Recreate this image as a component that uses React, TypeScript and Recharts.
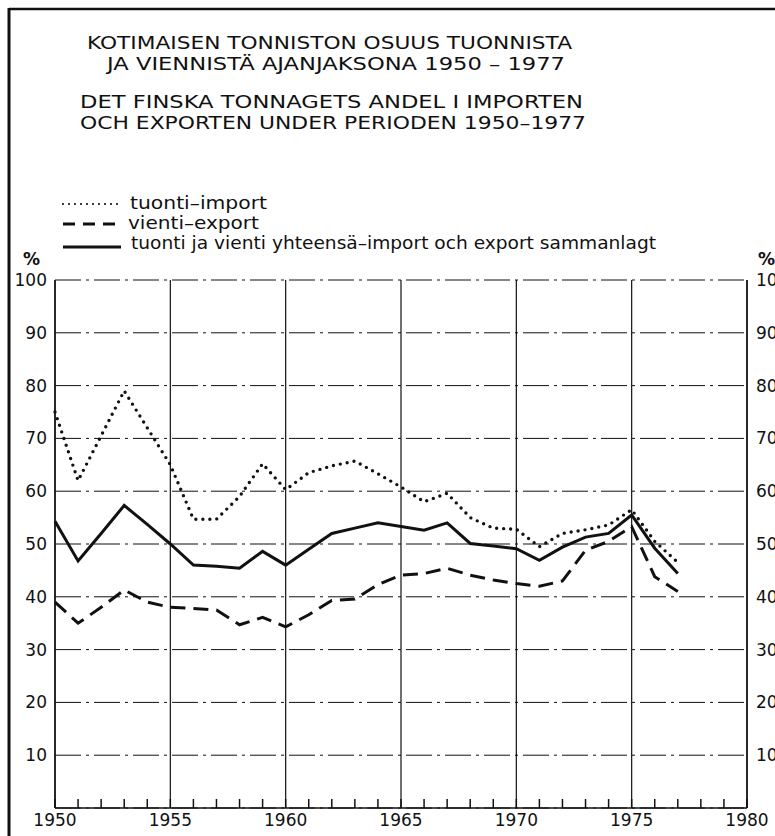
import React from 'react';
import { LineChart, Line, XAxis, YAxis, CartesianGrid } from 'recharts';

const years = [
  1950, 1951, 1952, 1953, 1954, 1955, 1956, 1957, 1958, 1959,
  1960, 1961, 1962, 1963, 1964, 1965, 1966, 1967, 1968, 1969,
  1970, 1971, 1972, 1973, 1974, 1975, 1976, 1977,
];

// tuonti-import (dotted)
const importShare = [
  75, 62, 70.5, 79, 72, 65, 54.7, 54.7, 59, 65.2,
  60.3, 63.5, 64.8, 65.7, 63.3, 60.8, 58, 59.6, 55, 53,
  52.8, 49.5, 52, 52.7, 53.6, 56.5, 50.5, 46.5,
];

// vienti-export (dashed)
const exportShare = [
  39, 35, 38, 41.3, 39, 38, 37.8, 37.5, 34.7, 36.1,
  34.3, 36.6, 39.3, 39.6, 42.3, 44.1, 44.4, 45.4, 44.1, 43.2,
  42.5, 42, 43, 48.8, 50.5, 53.3, 43.8, 41,
];

// tuonti ja vienti yhteensä (solid)
const totalShare = [
  54.3, 46.8, 52, 57.3, 53.7, 50, 46, 45.8, 45.4, 48.6,
  46, 49, 52, 53, 54, 53.3, 52.6, 54, 50.1, 49.6,
  49.1, 46.9, 49.4, 51.3, 52, 55.5, 49.2, 44.4,
];

const yearTicks = [1950, 1955, 1960, 1965, 1970, 1975, 1980];
const allYearTicks = [
  1950, 1951, 1952, 1953, 1954, 1955, 1956, 1957, 1958, 1959, 1960,
  1961, 1962, 1963, 1964, 1965, 1966, 1967, 1968, 1969, 1970,
  1971, 1972, 1973, 1974, 1975, 1976, 1977, 1978, 1979, 1980,
];
const pctTicks = [0, 10, 20, 30, 40, 50, 60, 70, 80, 90, 100];

const titleLines = [
  'KOTIMAISEN TONNISTON OSUUS TUONNISTA',
  'JA VIENNISTÄ AJANJAKSONA 1950 – 1977',
  'DET FINSKA TONNAGETS ANDEL I IMPORTEN',
  'OCH EXPORTEN UNDER PERIODEN 1950–1977',
];
const legendLabels = [
  'tuonti–import',
  'vienti–export',
  'tuonti ja vienti yhteensä–import och export sammanlagt',
];

const data = years.map((year, i) => ({
  year,
  tuonti: importShare[i],
  vienti: exportShare[i],
  yhteensa: totalShare[i],
}));

const INK = '#111';
const tickFont = { fontSize: 17, fill: INK, fontFamily: 'DejaVu Sans' };
const hideZero = (v: number) => (v === 0 ? '' : String(v));
const majorYearOnly = (v: number) => (yearTicks.includes(v) ? String(v) : '');

const Header = () => (
  <svg
    width={775}
    height={836}
    style={{ position: 'absolute', left: 0, top: 0, pointerEvents: 'none' }}
  >
    {/* frame */}
    <line x1={9} y1={9} x2={775} y2={9} stroke={INK} strokeWidth={2.5} />
    <line x1={9} y1={8} x2={9} y2={836} stroke={INK} strokeWidth={3} />

    <g fontFamily="DejaVu Sans" fontSize={18} fill={INK}>
      <text x={87} y={49} textLength={485} lengthAdjust="spacingAndGlyphs">{titleLines[0]}</text>
      <text x={107} y={70} textLength={458} lengthAdjust="spacingAndGlyphs">{titleLines[1]}</text>
      <text x={80} y={108} textLength={503} lengthAdjust="spacingAndGlyphs">{titleLines[2]}</text>
      <text x={80} y={129} textLength={506} lengthAdjust="spacingAndGlyphs">{titleLines[3]}</text>
    </g>

    {/* legend */}
    <line x1={63} y1={204} x2={119} y2={204} stroke={INK} strokeWidth={2.2} strokeDasharray="0 6" strokeLinecap="round" />
    <line x1={63} y1={224} x2={116} y2={224} stroke={INK} strokeWidth={3} strokeDasharray="12 8" />
    <line x1={63} y1={247} x2={121} y2={247} stroke={INK} strokeWidth={3} />
    <g fontFamily="DejaVu Sans" fontSize={17} fill={INK}>
      <text x={130} y={209} textLength={137} lengthAdjust="spacingAndGlyphs">{legendLabels[0]}</text>
      <text x={128} y={229} textLength={131} lengthAdjust="spacingAndGlyphs">{legendLabels[1]}</text>
      <text x={131} y={249} textLength={525} lengthAdjust="spacingAndGlyphs">{legendLabels[2]}</text>
    </g>

    <g fontFamily="DejaVu Sans" fontSize={17} fontWeight="bold" fill={INK}>
      <text x={23} y={265}>%</text>
      <text x={758} y={265}>%</text>
    </g>
  </svg>
);

export default function App() {
  return (
    <div style={{ position: 'absolute', left: 0, top: 0, width: 775, height: 836, background: '#fff' }}>
      <LineChart
        width={775}
        height={836}
        data={data}
        margin={{ top: 280, right: 0, bottom: 0, left: 10 }}
      >
        <CartesianGrid
          yAxisId="left"
          horizontal
          vertical={false}
          stroke={INK}
          strokeWidth={1}
          strokeDasharray="26 5 3 5"
        />
        <CartesianGrid
          yAxisId="left"
          horizontal={false}
          vertical
          verticalValues={yearTicks}
          stroke={INK}
          strokeWidth={1.2}
        />
        {/* every year gets a short tick pointing up; only every fifth is labelled */}
        <XAxis
          dataKey="year"
          type="number"
          domain={[1950, 1980]}
          ticks={allYearTicks}
          interval={0}
          height={28}
          tickSize={-9}
          tickMargin={15}
          tickLine={{ stroke: INK, strokeWidth: 1.5 }}
          axisLine={{ stroke: INK, strokeWidth: 1.5 }}
          tick={tickFont}
          tickFormatter={majorYearOnly}
        />
        <YAxis
          yAxisId="left"
          type="number"
          orientation="left"
          domain={[0, 100]}
          ticks={pctTicks}
          interval={0}
          width={45}
          tickSize={0}
          tickMargin={8}
          tickLine={false}
          axisLine={{ stroke: INK, strokeWidth: 1.5 }}
          tick={tickFont}
          tickFormatter={hideZero}
        />
        <YAxis
          yAxisId="right"
          type="number"
          orientation="right"
          domain={[0, 100]}
          ticks={pctTicks}
          interval={0}
          width={28}
          tickSize={0}
          tickMargin={9}
          tickLine={false}
          axisLine={{ stroke: INK, strokeWidth: 1.5 }}
          tick={tickFont}
          tickFormatter={hideZero}
        />
        <Line
          yAxisId="left"
          type="linear"
          dataKey="tuonti"
          stroke={INK}
          strokeWidth={3.4}
          strokeDasharray="0 7"
          strokeLinecap="round"
          dot={false}
          isAnimationActive={false}
        />
        <Line
          yAxisId="left"
          type="linear"
          dataKey="vienti"
          stroke={INK}
          strokeWidth={3}
          strokeDasharray="15 8"
          dot={false}
          isAnimationActive={false}
        />
        <Line
          yAxisId="right"
          type="linear"
          dataKey="yhteensa"
          stroke={INK}
          strokeWidth={3}
          dot={false}
          isAnimationActive={false}
        />
      </LineChart>
      <Header />
    </div>
  );
}
